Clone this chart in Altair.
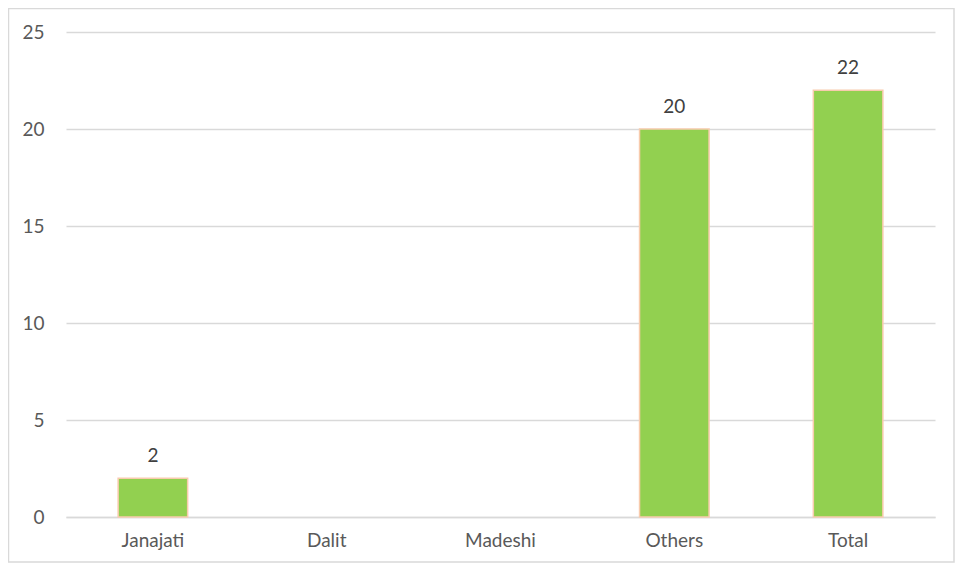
import altair as alt
import pandas as pd

categories = ["Janajati", "Dalit", "Madeshi", "Others", "Total"]
values = [2, None, None, 20, 22]
labels = ["2", "", "", "20", "22"]

df = pd.DataFrame({"cat": categories, "val": values, "lab": labels})

W, H = 869, 485
FONT = "Lato"

x = alt.X("cat:N", sort=categories, title=None,
          scale=alt.Scale(paddingInner=0.6, paddingOuter=0.3),
          axis=alt.Axis(labelAngle=0, labelFontSize=19, labelColor="#595959", labelFont=FONT,
                        ticks=False, domainColor="#D9D9D9", domainWidth=1.5, labelPadding=14,
                        grid=False))
y = alt.Y("val:Q", title=None,
          scale=alt.Scale(domain=[0, 25]),
          axis=alt.Axis(values=[0, 5, 10, 15, 20, 25], labelFontSize=19, labelColor="#595959",
                        labelFont=FONT, ticks=False, domain=False, gridColor="#D9D9D9",
                        gridWidth=1.5, labelPadding=22))

bars = alt.Chart(df).mark_bar(color="#92D050", stroke="#F8CBAD", strokeWidth=1.5).encode(x=x, y=y)
text = alt.Chart(df).mark_text(baseline="bottom", dy=-12, fontSize=19, font=FONT,
                               color="#404040").encode(x=x, y=y, text="lab:N")

border = alt.Chart(pd.DataFrame({"a": [0]})).mark_rect(
    fill="transparent", stroke="#D9D9D9", strokeWidth=1.5).encode(
    x=alt.value(-57.5), x2=alt.value(W + 19), y=alt.value(-23.5), y2=alt.value(H + 45))

chart = alt.layer(bars, text, border).properties(
    width=W, height=H,
    background="white",
    autosize=alt.AutoSizeParams(type="none"),
    padding={"left": 58, "top": 24, "right": 20, "bottom": 46},
).configure_view(strokeWidth=0, stroke="transparent")

chart.save("out.html", embed_options={"renderer": "svg", "actions": False})
